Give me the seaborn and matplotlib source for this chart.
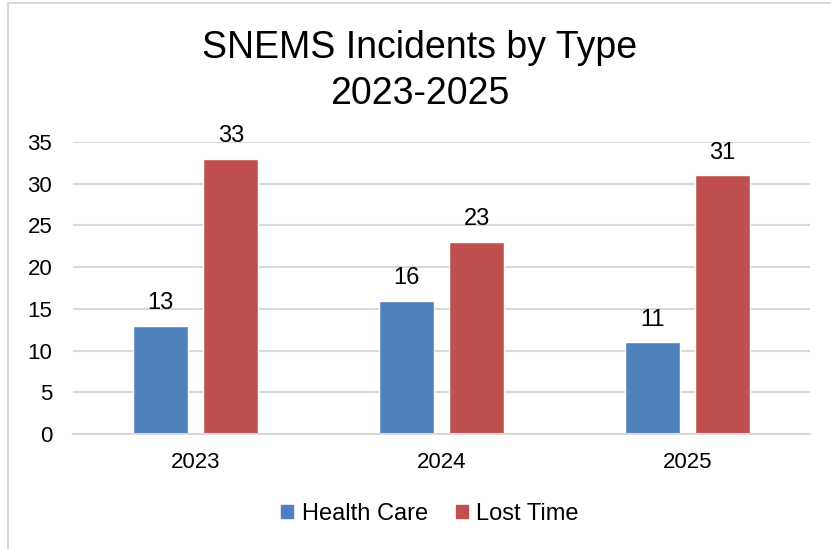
import pandas as pd
import seaborn as sns
import matplotlib
matplotlib.use('Agg')
import matplotlib.pyplot as plt
from matplotlib.patches import Rectangle

years = ["2023", "2024", "2025"]
health_care = [13, 16, 11]
lost_time = [33, 23, 31]
series = ["Health Care", "Lost Time"]
colors = ["#4F81BD", "#C0504D"]

df = pd.DataFrame({
    "year": years * 2,
    "count": health_care + lost_time,
    "type": [series[0]] * 3 + [series[1]] * 3,
})

sns.set_style("white")
plt.rcParams['font.family'] = ['Liberation Sans', 'DejaVu Sans']
plt.rcParams['text.color'] = 'black'
plt.rcParams['xtick.color'] = 'black'
plt.rcParams['ytick.color'] = 'black'

fig = plt.figure(figsize=(8.31, 5.49), dpi=100)
ax = fig.add_axes([73/831, 1-434/549, 737/831, (434-142)/549])

# chart border
fig.patches.append(Rectangle((8/831, -0.1), 2.0, 1.1 - 3/549, transform=fig.transFigure,
                             fill=False, edgecolor="#D9D9D9", linewidth=1.5, zorder=0))

sns.barplot(data=df, x="year", y="count", hue="type", palette=colors,
            width=0.57, gap=0.21, saturation=1, ax=ax, legend=False)

for c in ax.containers:
    for bar in c:
        h = bar.get_height()
        ax.annotate("%d" % h, (bar.get_x() + bar.get_width()/2, h),
                    xytext=(0, 12), textcoords="offset points",
                    ha="center", va="baseline", fontsize=17)

ax.set_ylim(0, 35)
ax.set_xlim(-0.5, 2.5)
ax.set_yticks(range(0, 36, 5))
ax.yaxis.grid(True, color="#D9D9D9", linewidth=1.5)
ax.set_axisbelow(True)
for s in ["left", "right", "top"]:
    ax.spines[s].set_visible(False)
ax.spines["bottom"].set_color("#D9D9D9")
ax.spines["bottom"].set_linewidth(1.5)
ax.tick_params(axis="both", length=0, labelsize=16)
ax.tick_params(axis="y", pad=15)
ax.tick_params(axis="x", pad=13)
ax.set_xlabel("")
ax.set_ylabel("")

fig.text(420/831, 1-71/549, "SNEMS Incidents by Type\n2023-2025", ha="center", va="center",
         fontsize=27, linespacing=1.38)

handles = [Rectangle((0, 0), 1, 1, color=col) for col in colors]
fig.legend(handles, series, loc="center", bbox_to_anchor=(430/831, 1-514/549), ncol=2,
           frameon=False, fontsize=17, handlelength=0.5, handleheight=0.5,
           handletextpad=0.35, columnspacing=1.2)

plt.savefig("out.png", dpi=100)
